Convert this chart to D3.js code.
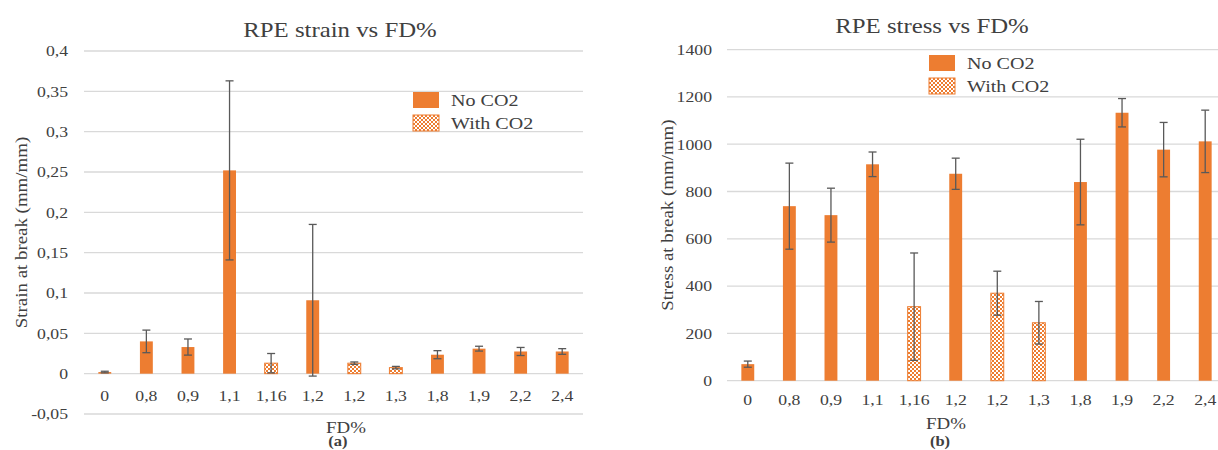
<!DOCTYPE html>
<html>
<head>
<meta charset="utf-8">
<script src="https://cdn.jsdelivr.net/npm/d3@7"></script>
<style>
  body { margin: 0; background: #fff; }
  svg text { font-family: "Liberation Serif", "DejaVu Serif", serif; fill: #404040; }
</style>
</head>
<body>
<div id="chart"></div>
<script>
// Chart data
var categories = ["0", "0,8", "0,9", "1,1", "1,16", "1,2", "1,2", "1,3", "1,8", "1,9", "2,2", "2,4"];
var withCO2 = [false, false, false, false, true, false, true, true, false, false, false, false];

var strainMean = [0.002, 0.040, 0.033, 0.252, 0.013, 0.091, 0.013, 0.0075, 0.0235, 0.031, 0.0275, 0.0275];
var strainErr = [0.001, 0.014, 0.010, 0.111, 0.012, 0.094, 0.0015, 0.0015, 0.005, 0.003, 0.005, 0.0035];
var strainTicks = [-0.05, 0, 0.05, 0.1, 0.15, 0.2, 0.25, 0.3, 0.35, 0.4];
var strainTickLabels = ["-0,05", "0", "0,05", "0,1", "0,15", "0,2", "0,25", "0,3", "0,35", "0,4"];

var stressMean = [70, 738, 700, 915, 313, 875, 370, 245, 840, 1133, 977, 1012];
var stressErr = [13, 182, 114, 52, 227, 66, 93, 90, 181, 60, 115, 132];
var stressTicks = [0, 200, 400, 600, 800, 1000, 1200, 1400];
var stressTickLabels = ["0", "200", "400", "600", "800", "1000", "1200", "1400"];

var legendLabels = ["No CO2", "With CO2"];

var width = 1218;
var height = 450;
var orange = "#ED7D31";
var gridColor = "#D9D9D9";
var errColor = "#595959";
var stretchX = 1.18;   // the source picture is a bit wider than its fonts

var svg = d3.select("#chart").append("svg")
    .attr("width", width)
    .attr("height", height);

// checker fill for the "With CO2" bars
var pat = svg.append("defs").append("pattern")
    .attr("id", "checker")
    .attr("width", 4).attr("height", 4)
    .attr("patternUnits", "userSpaceOnUse");
pat.append("rect").attr("width", 4).attr("height", 4).attr("fill", "#fff");
pat.append("rect").attr("width", 2).attr("height", 2).attr("fill", orange);
pat.append("rect").attr("x", 2).attr("y", 2).attr("width", 2).attr("height", 2).attr("fill", orange);

function stretch(sel, k) {
    sel.each(function() {
        var w = this.getComputedTextLength();
        d3.select(this).attr("textLength", w * k).attr("lengthAdjust", "spacingAndGlyphs");
    });
}

function drawPanel(cfg) {
    var g = svg.append("g");

    var x = d3.scaleBand()
        .domain(d3.range(categories.length))
        .range([cfg.left, cfg.right]);
    var y = d3.scaleLinear()
        .domain(cfg.domain)
        .range([cfg.bottom, cfg.top]);

    // Gridlines
    g.selectAll(".grid")
        .data(cfg.ticks)
        .enter().append("line")
        .attr("x1", cfg.left).attr("x2", cfg.right)
        .attr("y1", function(d) { return y(d); })
        .attr("y2", function(d) { return y(d); })
        .attr("stroke", gridColor)
        .attr("stroke-width", 1.3);

    // Y axis
    var yAxis = g.append("g")
        .attr("transform", "translate(" + cfg.left + ",0)")
        .call(d3.axisLeft(y).tickValues(cfg.ticks).tickSize(0).tickPadding(cfg.yPad)
            .tickFormat(function(d, i) { return cfg.tickLabels[i]; }));
    yAxis.select(".domain").remove();
    yAxis.selectAll("text").style("font-size", "15px").style("font-family", null).attr("fill", "#404040");

    // X axis, sitting on the zero line
    var xAxis = g.append("g")
        .attr("transform", "translate(0," + y(0) + ")")
        .call(d3.axisBottom(x).tickSize(0).tickPadding(cfg.xPad)
            .tickFormat(function(d) { return categories[d]; }));
    xAxis.select(".domain").remove();
    xAxis.selectAll("text").style("font-size", "15px").style("font-family", null).attr("fill", "#404040");

    // Bars
    var barW = x.bandwidth() * 0.31;
    g.selectAll(".bar")
        .data(cfg.mean)
        .enter().append("rect")
        .attr("x", function(d, i) { return x(i) + (x.bandwidth() - barW) / 2; })
        .attr("y", function(d) { return y(Math.max(d, 0)); })
        .attr("width", barW)
        .attr("height", function(d) { return Math.abs(y(d) - y(0)); })
        .attr("fill", function(d, i) { return withCO2[i] ? "url(#checker)" : orange; })
        .attr("stroke", orange)
        .attr("stroke-width", function(d, i) { return withCO2[i] ? 1 : 0; });

    // Error bars
    var err = g.selectAll(".err")
        .data(cfg.mean)
        .enter().append("g")
        .attr("stroke", errColor)
        .attr("stroke-width", 1.3);
    err.append("line")
        .attr("x1", function(d, i) { return x(i) + x.bandwidth() / 2; })
        .attr("x2", function(d, i) { return x(i) + x.bandwidth() / 2; })
        .attr("y1", function(d, i) { return y(d - cfg.err[i]); })
        .attr("y2", function(d, i) { return y(d + cfg.err[i]); });
    [-1, 1].forEach(function(s) {
        err.append("line")
            .attr("x1", function(d, i) { return x(i) + x.bandwidth() / 2 - 4; })
            .attr("x2", function(d, i) { return x(i) + x.bandwidth() / 2 + 4; })
            .attr("y1", function(d, i) { return y(d + s * cfg.err[i]); })
            .attr("y2", function(d, i) { return y(d + s * cfg.err[i]); });
    });

    // Title
    g.append("text")
        .attr("x", cfg.titleX).attr("y", cfg.titleY)
        .attr("text-anchor", "middle")
        .style("font-size", "21px")
        .attr("fill", "#262626")
        .text(cfg.title);

    // Axis titles
    g.append("text")
        .attr("transform", "translate(" + cfg.yTitleX + "," + ((cfg.top + cfg.bottom) / 2) + ") rotate(-90)")
        .attr("text-anchor", "middle")
        .attr("dy", "0.35em")
        .style("font-size", "16px")
        .text(cfg.yTitle);
    g.append("text")
        .attr("x", cfg.xTitleX).attr("y", cfg.xTitleY)
        .attr("text-anchor", "middle")
        .style("font-size", "16px")
        .text("FD%");
    g.append("text")
        .attr("x", cfg.tagX).attr("y", cfg.tagY)
        .attr("text-anchor", "middle")
        .style("font-size", "14px")
        .style("font-weight", "bold")
        .attr("fill", "#262626")
        .text(cfg.tag);

    // Legend
    var leg = g.selectAll(".leg")
        .data(legendLabels)
        .enter().append("g")
        .attr("transform", function(d, i) { return "translate(" + cfg.legX + "," + (cfg.legY + i * 23) + ")"; });
    leg.append("rect")
        .attr("width", 26).attr("height", 16)
        .attr("fill", function(d, i) { return i ? "url(#checker)" : orange; })
        .attr("stroke", orange)
        .attr("stroke-width", function(d, i) { return i ? 1 : 0; });
    leg.append("text")
        .attr("x", 38).attr("y", 8)
        .attr("dy", "0.35em")
        .style("font-size", "17px")
        .text(function(d) { return d; });

    stretch(g.selectAll("text"), stretchX);
}

drawPanel({
    left: 84, right: 583, top: 51, bottom: 414,
    domain: [-0.05, 0.4], ticks: strainTicks, tickLabels: strainTickLabels,
    mean: strainMean, err: strainErr,
    yPad: 16, xPad: 17,
    title: "RPE strain vs FD%", titleX: 340, titleY: 37,
    yTitle: "Strain at break (mm/mm)", yTitleX: 21,
    xTitleX: 346, xTitleY: 433, tag: "(a)", tagX: 338, tagY: 446,
    legX: 413, legY: 92
});

drawPanel({
    left: 727, right: 1226, top: 49.6, bottom: 380.7,
    domain: [0, 1400], ticks: stressTicks, tickLabels: stressTickLabels,
    mean: stressMean, err: stressErr,
    yPad: 15, xPad: 14,
    title: "RPE stress vs FD%", titleX: 932, titleY: 33,
    yTitle: "Stress at break (mm/mm)", yTitleX: 667,
    xTitleX: 946, xTitleY: 429, tag: "(b)", tagX: 940, tagY: 446,
    legX: 929, legY: 55
});
</script>
</body>
</html>
